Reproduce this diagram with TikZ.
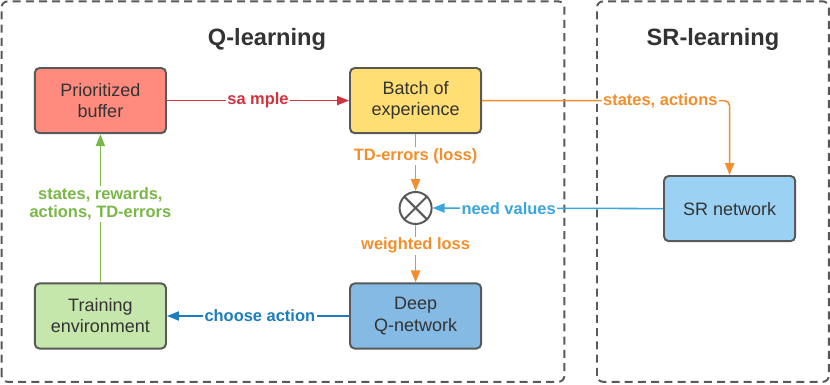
\documentclass[tikz,border=0pt]{standalone}
\usepackage{fontspec}
\setmainfont{Liberation Sans}
\usetikzlibrary{arrows.meta}

\definecolor{edgegray}{HTML}{595959}
\definecolor{textgray}{HTML}{333333}
\definecolor{bufred}{HTML}{FF8B7F}
\definecolor{batchyellow}{HTML}{FFDE73}
\definecolor{envgreen}{HTML}{C6E7AB}
\definecolor{dqnblue}{HTML}{84BAE4}
\definecolor{srblue}{HTML}{9BD2F4}
\definecolor{samplered}{HTML}{D0333F}
\definecolor{lossorange}{HTML}{F28E2B}
\definecolor{stategreen}{HTML}{7AB648}
\definecolor{actionblue}{HTML}{1C7DC0}
\definecolor{valueblue}{HTML}{3BA5DE}

\begin{document}
\begin{tikzpicture}[>={Triangle[length=3mm,width=2.3mm]},line width=1.1pt,
  font=\fontsize{12.8}{15}\selectfont,
  panel/.style={draw=edgegray,line width=1.4pt,dash pattern=on 2mm off 1.3mm,rounded corners=0.15cm},
  title/.style={font=\bfseries\fontsize{16.8}{20}\selectfont,text=textgray},
  block/.style={draw=edgegray,line width=1.4pt,rounded corners=0.12cm,minimum width=3.28cm,
    minimum height=1.63cm,align=center,text=textgray,inner sep=0pt},
  lbl/.style={fill=white,inner sep=1pt,align=center,font=\bfseries\fontsize{11.7}{13.2}\selectfont}]
  \useasboundingbox (0,0) rectangle (20.75,9.625);

  % dashed panels and titles
  \draw[panel] (0.04,0.08) rectangle (14.11,9.59);
  \draw[panel] (14.925,0.08) rectangle (20.72,9.59);
  \node[title] (qtitle) at (6.675,8.65) {Q-learning};
  \node[title] (srtitle) at (17.825,8.65) {SR-learning};

  % blocks
  \node[block,fill=bufred] (buffer) at (2.51,7.11) {Prioritized\\buffer};
  \node[block,fill=batchyellow] (batch) at (10.39,7.11) {Batch of\\experience};
  \node[block,fill=envgreen] (env) at (2.51,1.725) {Training\\environment};
  \node[block,fill=dqnblue] (dqn) at (10.39,1.725) {Deep\\Q-network};
  \node[block,fill=srblue] (srnet) at (18.24,4.41) {SR network};
  \node[circle,draw=edgegray,line width=1.4pt,minimum size=0.8cm] (mult) at (10.39,4.425) {};
  \draw[edgegray,line width=1.4pt] (mult.45) -- (mult.225);
  \draw[edgegray,line width=1.4pt] (mult.135) -- (mult.315);

  % connectors
  \draw[samplered,->] (buffer.east) -- node[lbl] {sa mple} (batch.west);
  \draw[lossorange,->,rounded corners=0.13cm] (batch.east) -| node[lbl,pos=0.36] {states, actions} (srnet.north);
  \draw[lossorange,->] (batch.south) -- node[lbl,pos=0.38] {TD-errors (loss)} (mult.north);
  \draw[lossorange,->] (mult.south) -- node[lbl,pos=0.36] {weighted loss} (dqn.north);
  \draw[valueblue,->] (srnet.west) -- node[lbl,pos=0.67] {need values} (mult.east);
  \draw[actionblue,->] (dqn.west) -- node[lbl,pos=0.49] {choose action} (env.east);
  \draw[stategreen,->] (env.north) -- node[lbl,pos=0.53] {states, rewards,\\actions, TD-errors} (buffer.south);
\end{tikzpicture}
\end{document}
